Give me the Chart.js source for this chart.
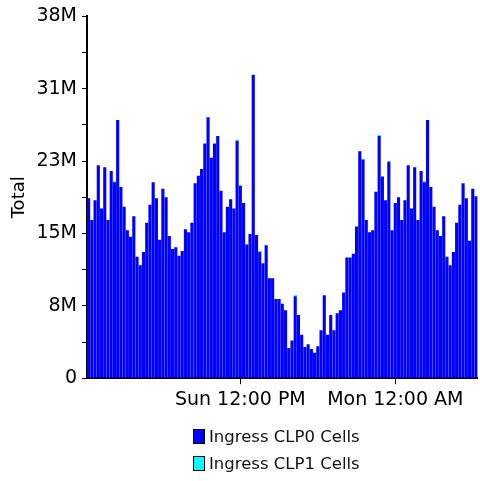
<!DOCTYPE html>
<html>
<head>
<meta charset="utf-8">
<script src="https://cdn.jsdelivr.net/npm/chart.js@4/dist/chart.umd.min.js"></script>
<style>
  html, body { margin: 0; padding: 0; background: #fff; }
  #wrap { position: relative; width: 480px; height: 481px; }
  #legend { position: absolute; left: 193px; top: 429px; font-family: 'DejaVu Sans', sans-serif; font-size: 16.5px; color: #111; }
  .item { height: 27px; display: flex; align-items: flex-start; }
  .box { width: 10px; height: 13px; border: 1px solid #000; margin-right: 4px; margin-top: 0px; }
  .txt { line-height: 15px; }
</style>
</head>
<body>
<div id="wrap">
  <canvas id="chart" width="480" height="481"></canvas>
  <div id="legend"></div>
</div>
<script>
// values in millions of cells, one bar per 15 minutes starting Sun 12:15 AM
var clp0 = [
  19.1, 16.8, 18.9, 22.6, 18.0, 22.4, 16.8, 22.0, 20.8, 27.4,
  20.3, 18.2, 15.7, 15.0, 17.2, 12.9, 12.0, 13.4, 16.5, 18.4,
  20.8, 19.1, 14.7, 20.1, 19.2, 15.1, 13.7, 13.9, 13.0, 13.5,
  15.8, 15.5, 16.5, 20.7, 21.5, 22.2, 24.9, 27.7, 23.4, 24.9,
  25.7, 19.9, 15.5, 18.2, 19.0, 18.0, 25.2, 20.4, 18.6, 14.2,
  15.3, 32.2, 15.2, 13.4, 12.2, 14.1, 10.6, 10.6, 8.4, 8.4,
  7.9, 7.2, 3.2, 4.0, 8.7, 6.7, 4.6, 3.3, 3.6, 3.1,
  2.7, 3.4, 5.1, 8.8, 4.6, 6.7, 5.1, 6.9, 7.2, 9.1,
  12.8, 12.8, 13.2, 16.1, 24.1, 23.2, 16.8, 15.5, 15.7, 19.8,
  25.7, 21.4, 18.9, 23.0, 15.7, 18.6, 19.2, 16.8, 18.9, 22.6,
  18.0, 22.4, 16.8, 22.0, 20.8, 27.4, 20.3, 18.2, 15.7, 15.1,
  17.2, 12.9, 12.0, 13.4, 16.5, 18.4, 20.7, 19.1, 14.6, 20.1,
  19.3
];
// CLP1 cells are only a sliver on a few bars
var clp1 = [];
var clp1Bars = [8, 46, 47, 53, 64, 85, 90, 104];
for (var k = 0; k < clp0.length; k++) clp1.push(clp1Bars.indexOf(k) >= 0 ? 0.1 : 0);

var seriesNames = ['Ingress CLP0 Cells', 'Ingress CLP1 Cells'];
var seriesColors = ['#0000ff', '#00ffff'];
var yTickLabels = ['0', '8M', '15M', '23M', '31M', '38M'];
var startMinutes = 15, stepMinutes = 15;
var dayNames = ['Sun', 'Mon'];

var labels = [], shown = [];
for (var i = 0; i < clp0.length; i++) {
    var m = startMinutes + i * stepMinutes,
        day = Math.floor(m / 1440), mm = m % 1440,
        h = Math.floor(mm / 60), mi = mm % 60,
        ampm = h < 12 ? 'AM' : 'PM', h12 = h % 12 == 0 ? 12 : h % 12;
    labels.push(dayNames[day] + ' ' + h12 + ':' + (mi < 10 ? '0' : '') + mi + ' ' + ampm);
    shown.push(mm % 720 == 0);
}

var font = { family: "'DejaVu Sans', sans-serif", size: 19 };

new Chart(document.getElementById('chart'), {
    type: 'bar',
    data: {
        labels: labels,
        datasets: [{
            label: seriesNames[0],
            data: clp0,
            backgroundColor: seriesColors[0],
            barPercentage: 0.97,
            categoryPercentage: 1
        }, {
            label: seriesNames[1],
            data: clp1,
            backgroundColor: seriesColors[1],
            barPercentage: 0.97,
            categoryPercentage: 1
        }]
    },
    options: {
        animation: false,
        responsive: false,
        layout: { padding: { left: 0, right: 0, top: 15, bottom: 66 } },
        plugins: { legend: { display: false }, tooltip: { enabled: false } },
        scales: {
            x: {
                stacked: true,
                border: { color: '#000', width: 2 },
                grid: {
                    offset: false,
                    drawOnChartArea: false,
                    tickLength: 6,
                    color: function(ctx) { return shown[ctx.index] ? '#000' : 'rgba(0,0,0,0)'; }
                },
                ticks: {
                    autoSkip: false, maxRotation: 0, minRotation: 0, padding: 4,
                    color: '#000', font: font,
                    callback: function(v, idx) { return shown[idx] ? labels[idx] : ''; }
                }
            },
            y: {
                stacked: true,
                min: 0, max: 38.4,
                afterFit: function(scale) { scale.width = 87; },
                border: { color: '#000', width: 2 },
                grid: { drawOnChartArea: false, tickLength: 5, color: '#000' },
                title: { display: true, text: 'Total', color: '#000', font: { family: font.family, size: 18 }, padding: { top: 9, bottom: 0 } },
                ticks: {
                    stepSize: 3.84, padding: 5, color: '#000', font: font,
                    callback: function(v, idx) { return idx % 2 == 0 ? yTickLabels[idx / 2] : ''; }
                }
            }
        }
    }
});

// legend stacked vertically below the chart, as in the original
var lg = document.getElementById('legend');
seriesNames.forEach(function(name, n) {
    lg.innerHTML += '<div class="item"><div class="box" style="background:' + seriesColors[n] + '"></div><span class="txt">' + name + '</span></div>';
});
</script>
</body>
</html>
